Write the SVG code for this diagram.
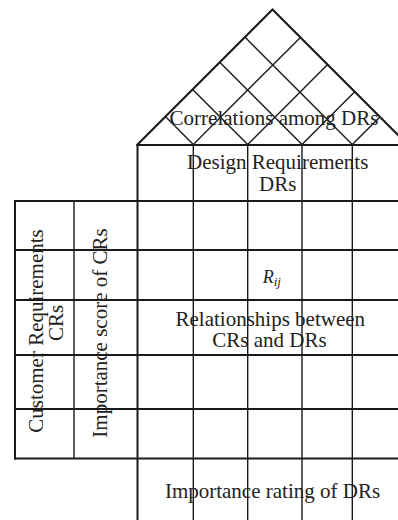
<svg xmlns="http://www.w3.org/2000/svg" width="398" height="520" viewBox="0 0 398 520">
<style>
.thick{stroke:#1a1a1a;stroke-width:2;fill:none;stroke-linecap:square}
.thin{stroke:#1a1a1a;stroke-width:1.4;fill:none}
.lbl{font-family:"Liberation Serif","Times New Roman",serif;font-size:21px;fill:#222;text-anchor:middle}
.ital{font-family:"Liberation Serif","Times New Roman",serif;font-style:italic;fill:#222}
</style>
<rect width="398" height="520" fill="#fff"/>
<g id="roof">
<polyline class="thick" points="137.5,144.5 272.5,9.5 409,146"/>
<g class="thin">
<line x1="193.3" y1="144.5" x2="165.4" y2="116.6"/>
<line x1="193.3" y1="144.5" x2="300.4" y2="37.4"/>
<line x1="247.7" y1="144.5" x2="192.6" y2="89.4"/>
<line x1="247.7" y1="144.5" x2="327.6" y2="64.6"/>
<line x1="302" y1="144.5" x2="219.75" y2="62.25"/>
<line x1="302" y1="144.5" x2="354.75" y2="91.75"/>
<line x1="352.3" y1="144.5" x2="244.9" y2="37.1"/>
<line x1="352.3" y1="144.5" x2="379.9" y2="116.9"/>
</g>
<text id="roof-label" class="lbl" x="274" y="125">Correlations among DRs</text>
</g>
<g id="matrix">
<g class="thick">
<line x1="137.5" y1="145" x2="398" y2="145"/>
<line x1="15" y1="201" x2="398" y2="201"/>
<line x1="15" y1="250" x2="398" y2="250"/>
<line x1="15" y1="300" x2="398" y2="300"/>
<line x1="15" y1="355" x2="398" y2="355"/>
<line x1="15" y1="409" x2="398" y2="409"/>
<line x1="15" y1="458.5" x2="398" y2="458.5"/>
<line x1="137.5" y1="145" x2="137.5" y2="520"/>
<line x1="15" y1="201" x2="15" y2="458.5"/>
</g>
<g class="thin">
<line x1="74" y1="201" x2="74" y2="458.5"/>
<line x1="193.3" y1="145" x2="193.3" y2="520"/>
<line x1="247.7" y1="145" x2="247.7" y2="520"/>
<line x1="302" y1="145" x2="302" y2="520"/>
<line x1="352.3" y1="145" x2="352.3" y2="520"/>
</g>
</g>
<g id="design-requirements">
<text class="lbl" x="277.7" y="169.3">Design Requirements</text>
<text class="lbl" x="277.7" y="190.7">DRs</text>
</g>
<g id="customer-requirements">
<text class="lbl" transform="translate(43,331) rotate(-90)">Customer Requirements</text>
<text class="lbl" transform="translate(63.3,323) rotate(-90)">CRs</text>
</g>
<g id="importance-score">
<text class="lbl" transform="translate(107,333) rotate(-90)">Importance score of CRs</text>
</g>
<g id="relationships">
<text class="ital" x="262.7" y="283.3" font-size="18">R<tspan font-size="13" dy="3">ij</tspan></text>
<text class="lbl" x="270.3" y="326">Relationships between</text>
<text class="lbl" x="269.5" y="346.7">CRs and DRs</text>
</g>
<g id="importance-rating">
<text class="lbl" x="272.5" y="498.3">Importance rating of DRs</text>
</g>
</svg>
